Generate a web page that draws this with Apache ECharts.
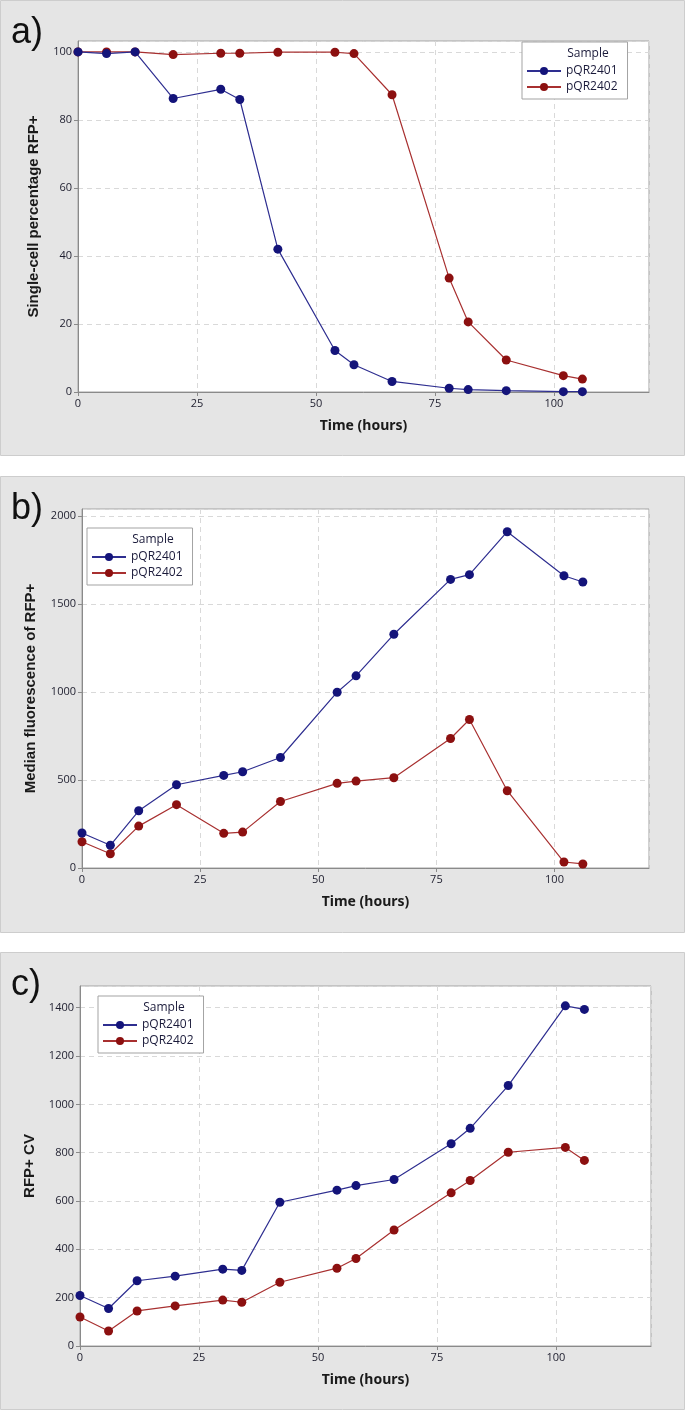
<!DOCTYPE html>
<html>
<head>
<meta charset="utf-8">
<script src="https://cdn.jsdelivr.net/npm/echarts@6/dist/echarts.min.js"></script>
<style>
  html, body { margin: 0; padding: 0; background: #fff; }
  #chart { width: 685px; height: 1410px; }
</style>
</head>
<body>
<div id="chart"></div>
<script>
// sampling times (hours), shared by all three panels
const hours = [0, 6, 12, 20, 30, 34, 42, 54, 58, 66, 78, 82, 90, 102, 106]
const seriesNames = ['pQR2401', 'pQR2402']

// a) single-cell percentage RFP+
const pctRfp2401 = [100, 99.5, 100, 86.3, 89, 86, 42, 12.2, 8, 3.1, 1.1, 0.7, 0.4, 0.1, 0.1]
const pctRfp2402 = [100, 100, 100, 99.2, 99.6, 99.6, 99.9, 99.9, 99.5, 87.4, 33.5, 20.6, 9.4, 4.8, 3.8]

// b) median fluorescence of RFP+
const medFluo2401 = [199, 129, 325, 473, 526, 547, 628, 999, 1092, 1328, 1640, 1667, 1911, 1661, 1625]
const medFluo2402 = [149, 81, 238, 360, 197, 204, 378, 481, 494, 513, 736, 844, 439, 34, 23]

// c) RFP+ CV
const cv2401 = [209, 155, 270, 289, 318, 313, 595, 645, 664, 689, 837, 901, 1078, 1408, 1393]
const cv2402 = [120, 62, 145, 166, 190, 181, 264, 322, 362, 480, 634, 685, 802, 822, 768]

const panelLetters = ['a)', 'b)', 'c)']
const yTitles = ['Single-cell percentage RFP+', 'Median fluorescence of RFP+', 'RFP+ CV']
const xTitle = 'Time (hours)'
const legendTitle = 'Sample'

const BLUE = '#14147a'
const BLUE_LINE = '#2e2e90'
const RED = '#8c1010'
const RED_LINE = '#a83030'
const TICK_FONT = 'Open Sans'

// panel frames (grey boxes) and plot layouts
const panels = [
  { top: 0, height: 455, grid: { left: 78, top: 41, width: 571, height: 351 },
    y: { max: 103.2, interval: 20, gap: 37 }, legend: { left: 522, top: 42 } },
  { top: 476, height: 456, grid: { left: 82, top: 509, width: 567, height: 359 },
    y: { max: 2040, interval: 500, gap: 44 }, legend: { left: 87, top: 528 } },
  { top: 952, height: 457, grid: { left: 80, top: 986, width: 571, height: 360 },
    y: { max: 1490, interval: 200, gap: 43 }, legend: { left: 98, top: 996 } },
]

const panelData = [
  [pctRfp2401, pctRfp2402],
  [medFluo2401, medFluo2402],
  [cv2401, cv2402],
]

const toPairs = vals => hours.map((h, i) => [h, vals[i]])
const plainNumber = v => String(v)  // no thousands separator, as in the original

const chart = echarts.init(document.getElementById('chart'), null, { renderer: 'canvas' })

const grids = []
const xAxes = []
const yAxes = []
const legends = []
const series = []
const graphics = []

panels.forEach((p, k) => {
  graphics.push({
    type: 'rect', z: -10, silent: true,
    shape: { x: 0.5, y: p.top + 0.5, width: 684, height: p.height },
    style: { fill: '#e5e5e5', stroke: '#cdcdcd', lineWidth: 1 },
  })
  graphics.push({
    type: 'text', z: 10, silent: true,
    x: 11, y: p.top + 33,
    style: {
      text: panelLetters[k], font: '36px "Liberation Sans", Arial, sans-serif',
      fill: '#111', verticalAlign: 'middle',
    },
  })
  // "Sample" heading inside the legend box
  graphics.push({
    type: 'text', z: 20, silent: true,
    x: p.legend.left + 66, y: p.legend.top + 12,
    style: {
      text: legendTitle, font: '12px "' + TICK_FONT + '"',
      fill: '#1a1a3a', align: 'center', verticalAlign: 'middle',
    },
  })

  grids.push(Object.assign({
    show: true, backgroundColor: '#fff', borderColor: '#a3a3a3', borderWidth: 1,
  }, p.grid))

  xAxes.push({
    gridIndex: k, type: 'value', min: 0, max: 120, interval: 25,
    name: xTitle, nameLocation: 'middle', nameGap: 27,
    nameTextStyle: { fontFamily: 'Noto Sans', fontWeight: 'bold', fontSize: 14, color: '#1a1a1a' },
    axisLine: { show: true, lineStyle: { color: '#8a8a8a' } },
    axisTick: { show: true, length: 4, lineStyle: { color: '#8a8a8a' } },
    axisLabel: { showMaxLabel: false, formatter: plainNumber, fontFamily: TICK_FONT, fontSize: 11, color: '#1e1e2e', margin: 6 },
    splitLine: { show: true, lineStyle: { color: '#d9d9d9', type: [5, 4] } },
  })

  yAxes.push({
    gridIndex: k, type: 'value', min: 0, max: p.y.max, interval: p.y.interval,
    name: yTitles[k], nameLocation: 'middle', nameGap: p.y.gap,
    nameTextStyle: { fontFamily: 'Liberation Sans', fontWeight: 'bold', fontSize: 15, color: '#1a1a1a' },
    axisLine: { show: true, lineStyle: { color: '#8a8a8a' } },
    axisTick: { show: true, length: 4, lineStyle: { color: '#8a8a8a' } },
    axisLabel: { showMaxLabel: false, formatter: plainNumber, fontFamily: TICK_FONT, fontSize: 11, color: '#1e1e2e', margin: 6 },
    splitLine: { show: true, lineStyle: { color: '#d9d9d9', type: [5, 4] } },
  })

  legends.push({
    left: p.legend.left, top: p.legend.top, orient: 'vertical',
    data: seriesNames,
    backgroundColor: '#fff', borderColor: '#a3a3a3', borderWidth: 1, borderRadius: 0,
    padding: [22, 10, 5, 4], itemGap: 2,
    itemWidth: 34, itemHeight: 10,
    textStyle: { fontFamily: TICK_FONT, fontSize: 12, color: '#1a1a3a', lineHeight: 14 },
  })

  panelData[k].forEach((vals, j) => {
    series.push({
      name: seriesNames[j], type: 'line',
      xAxisIndex: k, yAxisIndex: k,
      data: toPairs(vals),
      symbol: 'circle', symbolSize: 9,
      itemStyle: { color: j === 0 ? BLUE : RED },
      lineStyle: { width: 1.2, color: j === 0 ? BLUE_LINE : RED_LINE },
      z: j === 0 ? 3 : 2,
    })
  })
})

chart.setOption({
  animation: false,
  graphic: graphics,
  grid: grids,
  xAxis: xAxes,
  yAxis: yAxes,
  legend: legends,
  series: series,
})
</script>
</body>
</html>
